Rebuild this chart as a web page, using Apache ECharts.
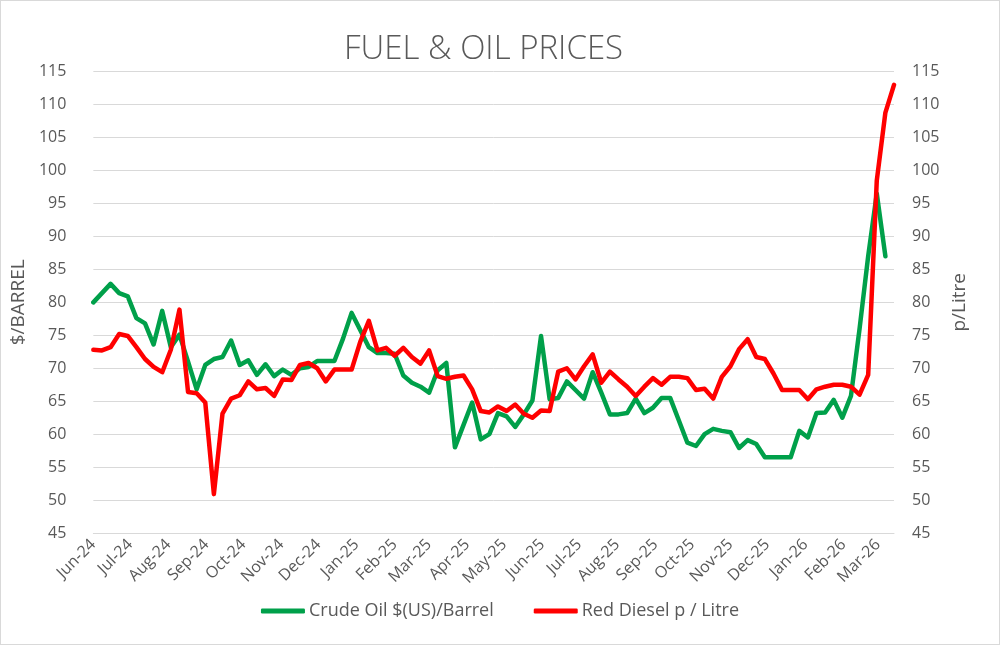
<!DOCTYPE html>
<html>
<head>
<meta charset="utf-8">
<title>Fuel & Oil Prices</title>
<script src="https://cdn.jsdelivr.net/npm/echarts@6/dist/echarts.min.js"></script>
<style>
html, body { margin: 0; padding: 0; background: #fff; }
#myChart { width: 1000px; height: 645px; box-sizing: border-box; border: 1px solid #d9d9d9; }
</style>
</head>
<body>
<div id="myChart"></div>
<script>
// weekly readings, first one on 1 Jun 2024
var startDate = [2024, 5, 1];
var weekCount = 94;

// month tick labels, one per month from Jun-24
var monthLabels = ['Jun-24', 'Jul-24', 'Aug-24', 'Sep-24', 'Oct-24', 'Nov-24', 'Dec-24',
    'Jan-25', 'Feb-25', 'Mar-25', 'Apr-25', 'May-25', 'Jun-25', 'Jul-25', 'Aug-25',
    'Sep-25', 'Oct-25', 'Nov-25', 'Dec-25', 'Jan-26', 'Feb-26', 'Mar-26'];

// Crude Oil $(US)/Barrel (last week not reported yet)
var crudeOil = [
    80.0, 81.4, 82.8, 81.4, 80.9, 77.6, 76.8, 73.6, 78.7, 73.2,
    75.1, 71.0, 66.8, 70.5, 71.4, 71.7, 74.2, 70.5, 71.2, 69.0,
    70.6, 68.8, 69.8, 69.0, 70.0, 70.2, 71.1, 71.1, 71.1, 74.5,
    78.4, 75.8, 73.2, 72.3, 72.3, 72.2, 68.9, 67.8, 67.2, 66.3,
    69.7, 70.8, 58.0, 61.4, 64.8, 59.2, 60.0, 63.2, 62.7, 61.1,
    63.0, 65.1, 74.9, 65.3, 65.5, 68.0, 66.7, 65.4, 69.4, 66.3,
    63.0, 63.0, 63.2, 65.4, 63.2, 64.0, 65.5, 65.5, 62.1, 58.7,
    58.2, 60.0, 60.8, 60.5, 60.3, 57.9, 59.1, 58.5, 56.5, 56.5,
    56.5, 56.5, 60.5, 59.5, 63.2, 63.3, 65.2, 62.5, 65.8, 76.0,
    87.0, 96.5, 87.0
];

// Red Diesel p / Litre
var redDiesel = [
    72.8, 72.7, 73.2, 75.2, 74.9, 73.2, 71.4, 70.2, 69.4, 72.8,
    78.9, 66.4, 66.2, 64.8, 50.9, 63.1, 65.4, 65.9, 68.0, 66.8,
    67.0, 65.8, 68.3, 68.2, 70.5, 70.8, 70.0, 68.0, 69.8, 69.8,
    69.8, 74.0, 77.2, 72.7, 73.1, 71.9, 73.1, 71.7, 70.7, 72.7,
    68.8, 68.4, 68.7, 68.9, 66.8, 63.5, 63.3, 64.2, 63.5, 64.5,
    63.1, 62.5, 63.6, 63.5, 69.5, 70.0, 68.3, 70.3, 72.1, 67.8,
    69.5, 68.3, 67.2, 65.8, 67.2, 68.5, 67.5, 68.7, 68.7, 68.5,
    66.7, 66.9, 65.4, 68.7, 70.3, 72.9, 74.4, 71.7, 71.4, 69.2,
    66.7, 66.7, 66.7, 65.3, 66.8, 67.2, 67.5, 67.5, 67.2, 66.0,
    69.0, 98.5, 108.8, 113.0
];

var weekDates = [];
for (var i = 0; i < weekCount; i++) {
    weekDates.push(new Date(startDate[0], startDate[1], startDate[2] + 7 * i).getTime());
}

function pairUp(vals) {
    var out = [];
    for (var i = 0; i < vals.length; i++) {
        out.push([weekDates[i], vals[i]]);
    }
    return out;
}

var textColor = '#595959';
var font = 'Open Sans';
var dayMs = 24 * 3600 * 1000;

var myChart = echarts.init(document.getElementById('myChart'));
var option = {
    backgroundColor: '#fff',
    animation: false,
    textStyle: { fontFamily: font },
    title: {
        text: 'FUEL & OIL PRICES',
        left: 338,
        top: 27,
        textStyle: { fontFamily: font, fontSize: 33, fontWeight: 300, color: textColor }
    },
    legend: {
        bottom: 19,
        left: 'center',
        icon: 'roundRect',
        itemWidth: 44,
        itemHeight: 5,
        itemGap: 40,
        textStyle: { fontSize: 18, color: textColor, padding: [0, 0, 0, -1] },
        data: ['Crude Oil $(US)/Barrel', 'Red Diesel p / Litre']
    },
    grid: {
        left: 90,
        right: 105,
        top: 70.7,
        bottom: 111,
        containLabel: false
    },
    xAxis: {
        type: 'time',
        min: weekDates[0],
        max: weekDates[weekCount - 1],
        minInterval: 28 * dayMs,
        maxInterval: 31 * dayMs,
        axisLine: { show: true, lineStyle: { color: '#d9d9d9' } },
        axisTick: { show: false },
        splitLine: { show: false },
        axisLabel: {
            rotate: 45,
            margin: 9,
            fontSize: 16,
            color: textColor,
            hideOverlap: false,
            formatter: function(v) {
                var d = new Date(v);
                var k = (d.getFullYear() - 2024) * 12 + d.getMonth() - 5;
                return monthLabels[k] || '';
            }
        }
    },
    yAxis: [{
        type: 'value',
        min: 45,
        max: 115,
        interval: 5,
        name: '$/BARREL',
        nameLocation: 'middle',
        nameRotate: 90,
        nameGap: 60,
        nameTextStyle: { fontSize: 19, color: textColor },
        axisLine: { show: false },
        axisTick: { show: false },
        axisLabel: { fontSize: 16, color: textColor, margin: 27 },
        splitLine: { lineStyle: { color: '#d9d9d9', width: 1 } }
    }, {
        type: 'value',
        position: 'right',
        min: 45,
        max: 115,
        interval: 5,
        name: 'p/Litre',
        nameLocation: 'middle',
        nameRotate: 90,
        nameGap: 54,
        nameTextStyle: { fontSize: 19, color: textColor },
        axisLine: { show: false },
        axisTick: { show: false },
        axisLabel: { fontSize: 16, color: textColor, margin: 18 },
        splitLine: { show: false }
    }],
    series: [{
        name: 'Crude Oil $(US)/Barrel',
        type: 'line',
        yAxisIndex: 0,
        showSymbol: false,
        symbol: 'none',
        color: '#00A04A',
        lineStyle: { width: 4.5, color: '#00A04A', cap: 'round', join: 'round' },
        data: pairUp(crudeOil)
    }, {
        name: 'Red Diesel p / Litre',
        type: 'line',
        yAxisIndex: 1,
        showSymbol: false,
        symbol: 'none',
        color: '#FF0000',
        lineStyle: { width: 4.5, color: '#FF0000', cap: 'round', join: 'round' },
        data: pairUp(redDiesel)
    }]
};
myChart.setOption(option);
</script>
</body>
</html>
